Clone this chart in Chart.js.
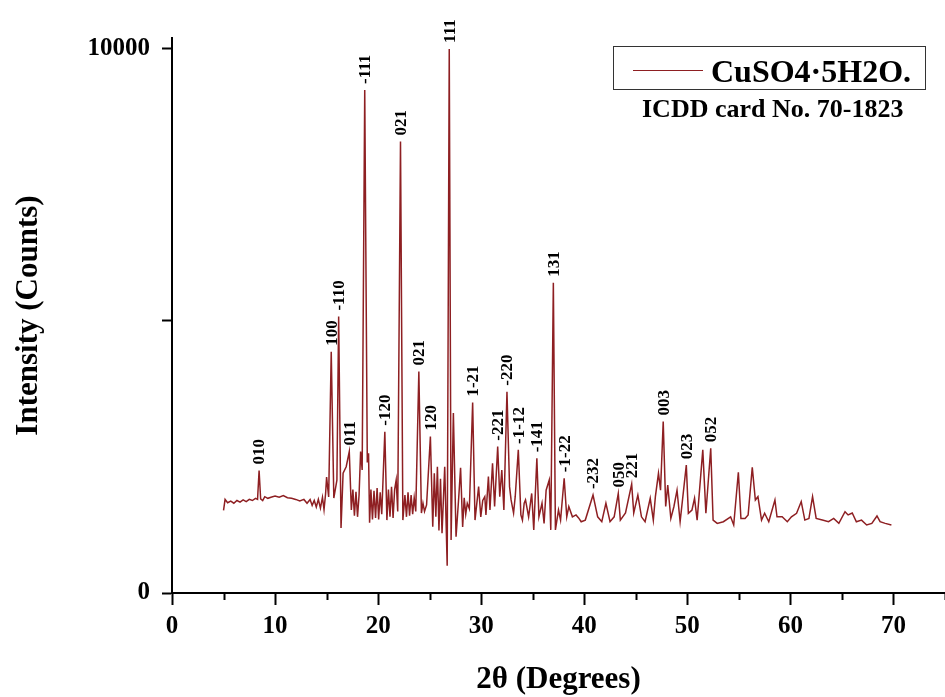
<!DOCTYPE html>
<html>
<head>
<meta charset="utf-8">
<script src="https://cdn.jsdelivr.net/npm/chart.js@4/dist/chart.umd.min.js"></script>
<style>
  html, body { margin: 0; padding: 0; background: #fff; }
  #wrap { width: 945px; height: 697px; position: relative; }
</style>
</head>
<body>
<div id="wrap"><canvas id="xrdChart"></canvas></div>
<script>
/* ----- XRD pattern data ----- */
const twoTheta = [
    5.0, 5.15, 5.4, 5.7, 6.0, 6.3, 6.6, 6.9, 7.2, 7.5, 7.8, 8.1, 8.3, 8.45, 8.6, 8.8,
    9.0, 9.3, 9.6, 10.0, 10.4, 10.8, 11.2, 11.6, 12.0, 12.4, 12.8, 13.1, 13.4, 13.6, 13.8, 14.0,
    14.2, 14.4, 14.6, 14.75, 14.9, 15.0, 15.2, 15.45, 15.7, 16.0, 16.17, 16.4, 16.6, 16.9, 17.2, 17.4,
    17.55, 17.7, 17.85, 18.0, 18.15, 18.3, 18.45, 18.7, 18.95, 19.07, 19.17, 19.3, 19.45, 19.6, 19.75, 19.9,
    20.05, 20.2, 20.35, 20.65, 20.85, 21.0, 21.15, 21.3, 21.45, 21.6, 21.75, 21.9, 22.17, 22.4, 22.6, 22.75,
    22.9, 23.05, 23.2, 23.35, 23.5, 23.65, 23.95, 24.2, 24.35, 24.5, 24.7, 25.07, 25.3, 25.45, 25.6, 25.75,
    25.9, 26.05, 26.2, 26.46, 26.7, 26.9, 27.08, 27.3, 27.56, 27.8, 28.0, 28.2, 28.35, 28.5, 28.65, 28.85,
    29.17, 29.4, 29.75, 29.96, 30.15, 30.35, 30.46, 30.7, 30.85, 31.1, 31.3, 31.6, 31.8, 32.0, 32.2, 32.5,
    32.75, 32.9, 33.14, 33.3, 33.6, 33.85, 34.0, 34.17, 34.3, 34.6, 34.9, 35.1, 35.4, 35.6, 35.9, 36.1,
    36.3, 36.6, 36.75, 37.0, 37.2, 37.5, 37.7, 38.05, 38.3, 38.5, 38.85, 39.2, 39.45, 39.7, 40.1, 40.85,
    41.3, 41.7, 42.1, 42.5, 42.9, 43.3, 43.5, 44.0, 44.6, 44.8, 45.2, 45.55, 45.9, 46.4, 46.7, 46.9,
    47.2, 47.4, 47.66, 47.9, 48.1, 48.4, 48.7, 49.0, 49.3, 49.9, 50.1, 50.45, 50.7, 50.95, 51.5, 51.8,
    52.27, 52.5, 52.9, 53.5, 54.2, 54.5, 54.95, 55.2, 55.6, 55.9, 56.3, 56.6, 56.85, 57.2, 57.5, 57.9,
    58.5, 58.7, 59.2, 59.7, 60.1, 60.6, 61.05, 61.4, 61.8, 62.15, 62.5, 63.1, 63.7, 64.2, 64.7, 65.3,
    65.6, 66.0, 66.4, 66.9, 67.4, 67.9, 68.4, 68.7, 69.2, 69.8
];
const counts = [
    1520, 1720, 1660, 1690, 1650, 1700, 1670, 1710, 1680, 1720, 1700, 1740, 1720, 2250, 1730, 1700,
    1770, 1740, 1760, 1780, 1760, 1790, 1750, 1740, 1720, 1690, 1720, 1650, 1720, 1610, 1700, 1580,
    1720, 1560, 1760, 1530, 1820, 2130, 1765, 4435, 1745, 2075, 5080, 1195, 2200, 2320, 2600, 1525,
    1900, 1420, 1860, 1400, 1800, 2600, 2260, 9245, 2400, 2570, 1290, 1900, 1350, 1880, 1380, 1930,
    1350, 1850, 1450, 2965, 1340, 1900, 1400, 1950, 1380, 1900, 2075, 1500, 8296, 1340, 1800, 1400,
    1850, 1420, 1800, 1450, 1750, 1500, 4070, 1470, 1650, 1500, 1620, 2875, 1220, 2200, 1400, 2320,
    1150, 2100, 1100, 2320, 500, 10000, 975, 3310, 1035, 1700, 2300, 1215, 1750, 1450, 1650, 1550,
    3500, 1340, 1955, 1400, 1700, 1770, 1435, 2140, 1525, 2385, 1590, 2690, 1770, 2260, 1525, 3700,
    1955, 1710, 1470, 1770, 2630, 1435, 1340, 1650, 1710, 1400, 1830, 1160, 2475, 1400, 1650, 1280,
    1890, 2075, 1160, 5700, 1160, 1525, 1340, 2110, 1400, 1590, 1400, 1435, 1380, 1310, 1340, 1800,
    1400, 1310, 1650, 1310, 1400, 1830, 1340, 1470, 2000, 1470, 1800, 1400, 1310, 1740, 1340, 1770,
    2200, 1890, 3150, 1590, 1985, 1370, 1590, 1890, 1310, 2350, 1465, 1525, 1740, 1340, 2630, 1465,
    2660, 1340, 1280, 1310, 1400, 1250, 2220, 1370, 1370, 1435, 2310, 1710, 1770, 1340, 1465, 1310,
    1710, 1400, 1400, 1310, 1400, 1465, 1680, 1340, 1370, 1770, 1370, 1340, 1310, 1370, 1280, 1495,
    1435, 1470, 1310, 1340, 1250, 1280, 1415, 1310, 1280, 1250
];

/* ----- Miller index labels ----- */
const peakLabels = ['010', '100', '-110', '011', '-111', '-120', '021', '021', '120', '111', '1-21', '-221',
                    '-220', '-1-12', '-141', '131', '-1-22', '-232', '050', '221', '003', '023', '052'];
const peakTheta  = [8.45, 15.45, 16.17, 17.2, 18.7, 20.65, 22.17, 23.95, 25.07, 26.9, 29.17, 31.6,
                    32.5, 33.6, 35.4, 37.0, 38.05, 40.85, 43.3, 44.6, 47.66, 49.9, 52.27];
const peakCounts = [2250, 4435, 5080, 2600, 9245, 2965, 8296, 4070, 2875, 10000, 3500, 2690,
                    3700, 2630, 2475, 5700, 2110, 1800, 1830, 2000, 3150, 2350, 2660];

/* ----- Axis ticks ----- */
const xTicks = [0, 10, 20, 30, 40, 50, 60, 70];
const xMinorTicks = [5, 15, 25, 35, 45, 55, 65, 75];
const yTicks = [0, 5000, 10000];
const yTickLabels = ['0', '', '10000'];

const seriesName = 'CuSO4\u00b75H2O.';
const cardText = 'ICDD card No. 70-1823';

const LINE_COLOR = '#8e1f22';
const SERIF = '"Liberation Serif", "Times New Roman", serif';

// peak labels, minor ticks and the framed legend
const annotations = {
    id: 'annotations',
    afterDatasetsDraw(chart) {
        const { ctx, scales: { x, y } } = chart;
        ctx.save();
        ctx.fillStyle = '#000';
        ctx.font = 'bold 17px ' + SERIF;
        ctx.textAlign = 'left';
        ctx.textBaseline = 'middle';
        peakLabels.forEach((lab, i) => {
            const px = x.getPixelForValue(peakTheta[i]);
            const py = y.getPixelForValue(peakCounts[i]) - 6;
            ctx.save();
            ctx.translate(px + 1, py);
            ctx.rotate(-Math.PI / 2);
            ctx.fillText(lab, 0, 0);
            ctx.restore();
        });

        // minor x ticks
        ctx.strokeStyle = '#000';
        ctx.lineWidth = 2;
        xMinorTicks.forEach(v => {
            const px = Math.round(x.getPixelForValue(v)) + 0.5;
            ctx.beginPath();
            ctx.moveTo(px, y.bottom);
            ctx.lineTo(px, y.bottom + 7);
            ctx.stroke();
        });

        // legend box
        ctx.lineWidth = 1;
        ctx.strokeStyle = '#333';
        ctx.strokeRect(613.5, 46.5, 312, 43);
        ctx.strokeStyle = LINE_COLOR;
        ctx.beginPath();
        ctx.moveTo(633, 70.5);
        ctx.lineTo(703, 70.5);
        ctx.stroke();
        ctx.font = 'bold 32px ' + SERIF;
        ctx.textBaseline = 'alphabetic';
        ctx.fillText(seriesName, 711, 82);
        ctx.font = 'bold 26px ' + SERIF;
        ctx.fillText(cardText, 642, 117);
        ctx.restore();
    }
};

new Chart(document.getElementById('xrdChart'), {
    type: 'line',
    data: {
        datasets: [{
            label: seriesName,
            data: twoTheta.map((t, i) => ({ x: t, y: counts[i] })),
            borderColor: LINE_COLOR,
            borderWidth: 1.5,
            pointRadius: 0,
            tension: 0,
            fill: false
        }]
    },
    options: {
        responsive: true,
        maintainAspectRatio: false,
        animation: false,
        layout: { padding: { top: 38, right: 0, left: 0, bottom: 0 } },
        plugins: {
            legend: { display: false },
            tooltip: { enabled: false }
        },
        scales: {
            x: {
                type: 'linear',
                min: 0,
                max: 75,
                afterBuildTicks: (scale) => { scale.ticks = xTicks.map(v => ({ value: v })); },
                afterFit: (scale) => { scale.height = 104; },
                border: { color: '#000', width: 2 },
                grid: { drawOnChartArea: false, drawTicks: true, tickLength: 12, tickWidth: 2, tickColor: '#000' },
                ticks: {
                    color: '#000',
                    padding: 7,
                    maxRotation: 0,
                    font: { family: SERIF, size: 25, weight: 'bold' }
                },
                title: {
                    display: true,
                    text: '2\u03b8 (Degrees)',
                    color: '#000',
                    padding: { top: 0, bottom: -2 },
                    font: { family: SERIF, size: 31, weight: 'bold' }
                }
            },
            y: {
                type: 'linear',
                min: 0,
                max: 10200,
                afterBuildTicks: (scale) => { scale.ticks = yTicks.map(v => ({ value: v })); },
                afterFit: (scale) => { scale.width = 172; },
                border: { color: '#000', width: 2 },
                grid: { drawOnChartArea: false, drawTicks: true, tickLength: 10, tickWidth: 2, tickColor: '#000' },
                ticks: {
                    color: '#000',
                    padding: 12,
                    font: { family: SERIF, size: 25, weight: 'bold' },
                    callback: (value) => yTickLabels[yTicks.indexOf(value)]
                },
                title: {
                    display: true,
                    text: 'Intensity (Counts)',
                    color: '#000',
                    padding: { top: 10, bottom: 0 },
                    font: { family: SERIF, size: 31, weight: 'bold' }
                }
            }
        }
    },
    plugins: [annotations]
});
</script>
</body>
</html>
